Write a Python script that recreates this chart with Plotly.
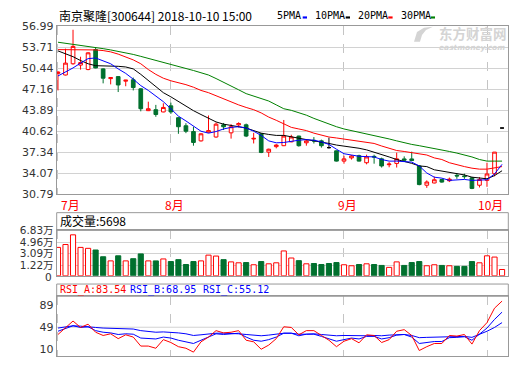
import plotly.graph_objects as go

# ---------------- data ----------------
MONTH_LABELS = ["7月", "8月", "9月", "10月"]
MONTH_START = [0, 15, 38, 57]

OPEN = [49.61, 49.36, 51.11, 50.90, 50.21, 53.31, 50.31, 48.80, 49.11, 48.40,
        48.61, 47.21, 43.81, 43.96, 43.61, 44.56, 42.71, 41.46, 40.56, 39.11,
        40.46, 39.71, 41.60, 40.36, 41.60, 41.61, 39.40, 40.21, 37.36, 38.21,
        38.36, 38.96, 39.86, 38.81, 39.20, 39.11, 38.06, 37.56, 35.96, 36.46,
        36.81, 35.71, 36.70, 36.31, 35.40, 35.60, 36.30, 36.30, 35.21, 32.21,
        32.56, 33.10, 32.91, 33.75, 33.65, 33.36, 32.21, 32.96, 34.00, 41.11]
HIGH = [49.96, 53.46, 56.40, 52.20, 52.90, 53.71, 50.40, 49.00, 49.20, 48.60,
        48.96, 47.30, 45.21, 44.71, 44.96, 45.06, 42.80, 41.86, 41.31, 40.30,
        43.06, 41.96, 41.90, 41.71, 42.00, 41.80, 40.36, 40.30, 37.90, 38.60,
        42.36, 40.06, 39.90, 39.40, 39.70, 39.30, 39.61, 37.60, 36.80, 36.90,
        36.96, 36.96, 36.96, 36.50, 35.80, 37.28, 36.70, 37.43, 35.30, 32.96,
        33.56, 33.20, 33.40, 34.10, 34.00, 33.50, 33.46, 35.71, 37.36, 41.11]
LOW = [46.96, 49.30, 50.96, 50.20, 50.10, 50.40, 48.06, 47.90, 46.71, 47.61,
       46.96, 43.71, 43.75, 42.86, 43.56, 43.31, 40.21, 40.31, 38.36, 39.00,
       40.40, 39.60, 40.80, 39.46, 41.20, 39.70, 38.71, 37.20, 36.61, 37.95,
       38.30, 38.90, 38.21, 38.36, 38.70, 38.06, 37.91, 35.90, 35.56, 36.20,
       35.90, 35.46, 35.56, 34.96, 35.00, 34.96, 35.96, 35.96, 32.20, 31.80,
       32.50, 32.60, 32.70, 33.20, 33.20, 31.60, 31.86, 31.96, 33.60, 41.11]
CLOSE = [49.81, 51.21, 53.81, 51.30, 52.81, 50.46, 48.86, 48.95, 47.81, 48.55,
         47.41, 44.11, 44.11, 43.21, 44.31, 43.61, 41.31, 40.61, 38.86, 40.21,
         40.71, 41.71, 41.30, 41.31, 41.80, 39.86, 39.50, 37.31, 37.81, 38.46,
         39.86, 39.71, 38.36, 39.11, 39.10, 38.36, 38.06, 35.96, 36.31, 36.76,
         35.96, 36.61, 36.60, 35.21, 35.50, 36.31, 36.10, 36.05, 32.31, 32.71,
         33.06, 32.70, 33.16, 33.65, 33.55, 31.71, 33.11, 33.96, 37.36, 41.11]
VOLUME = [41100, 45700, 61200, 41100, 39600, 36900, 26100, 19500, 27600, 19500,
          23000, 30700, 19500, 19500, 22600, 18400, 21500, 13700, 18400, 19500,
          28700, 27200, 21500, 17900, 16400, 16800, 13300, 18400, 14800, 16400,
          35400, 24100, 19900, 14800, 15300, 13700, 15300, 16800, 13300, 11700,
          13700, 14800, 13700, 12200, 9100, 17900, 12200, 16800, 18400, 11700,
          13300, 12200, 11700, 10700, 10700, 18400, 16400, 27600, 25600, 5698]

MA5 = [49.21, 49.81, 50.46, 51.21, 51.91, 52.01, 51.61, 51.11, 50.31, 49.61,
       48.71, 47.71, 46.96, 46.11, 45.21, 44.11, 42.96, 42.21, 41.46, 40.61,
       40.31, 40.56, 40.96, 41.21, 41.31, 41.11, 40.61, 39.96, 39.11, 38.81,
       38.86, 39.06, 39.21, 39.31, 39.21, 38.96, 38.56, 37.81, 37.11, 36.91,
       36.71, 36.66, 36.61, 36.21, 35.96, 35.96, 35.91, 35.81, 35.21, 34.11,
       33.46, 33.31, 32.96, 33.06, 33.11, 32.96, 32.96, 33.06, 33.96, 35.46]
MA10 = [53.11, 52.71, 52.21, 51.61, 51.11, 50.81, 50.81, 50.81, 50.71, 50.61,
        50.31, 49.46, 48.46, 47.46, 46.61, 45.96, 45.21, 44.46, 43.81, 43.21,
        42.61, 42.06, 41.71, 41.46, 41.31, 41.11, 40.71, 40.31, 40.11, 39.96,
        39.96, 39.71, 39.46, 39.31, 39.11, 38.96, 38.71, 38.46, 38.31, 38.16,
        37.96, 37.71, 37.36, 37.06, 36.61, 36.21, 35.96, 35.61, 35.21, 35.11,
        34.61, 34.41, 34.21, 33.96, 33.81, 33.46, 33.31, 33.21, 33.71, 34.46]
MA20 = [53.31, 53.31, 53.31, 53.31, 53.31, 53.26, 53.16, 52.96, 52.61, 52.21,
        51.71, 51.11, 50.21, 49.46, 48.86, 48.46, 48.21, 47.86, 47.46, 46.96,
        46.61, 46.11, 45.61, 45.11, 44.71, 44.31, 43.96, 43.46, 42.81, 42.31,
        41.71, 41.21, 40.96, 40.71, 40.31, 39.96, 39.71, 39.56, 39.41, 39.21,
        39.06, 38.91, 38.71, 38.31, 37.96, 37.61, 37.46, 37.31, 37.06, 36.91,
        36.46, 36.21, 35.71, 35.36, 35.11, 34.86, 34.71, 34.71, 34.86, 35.11]
MA30 = [54.46, 54.31, 54.16, 54.01, 53.86, 53.66, 53.46, 53.26, 53.06, 52.81,
        52.56, 52.26, 51.96, 51.66, 51.36, 50.96, 50.66, 50.36, 50.06, 49.71,
        49.36, 48.81, 48.26, 47.66, 47.06, 46.46, 46.11, 45.66, 45.31, 44.71,
        44.11, 43.86, 43.51, 43.11, 42.61, 42.16, 41.71, 41.31, 40.96, 40.71,
        40.51, 40.21, 39.96, 39.71, 39.41, 39.11, 38.81, 38.56, 38.36, 38.16,
        37.96, 37.71, 37.46, 37.21, 36.96, 36.61, 36.21, 35.96, 35.96, 35.96]

RSI_A = [39.4, 48.7, 57.2, 48.7, 53.0, 42.4, 38.1, 40.3, 33.9, 39.0,
         36.0, 24.1, 24.1, 21.2, 32.6, 28.8, 23.3, 21.2, 16.1, 29.7,
         36.0, 44.5, 41.5, 42.4, 44.5, 31.8, 29.7, 19.9, 25.4, 33.9,
         49.6, 48.7, 39.0, 44.5, 44.5, 38.1, 31.8, 23.3, 30.5, 33.9,
         28.4, 39.0, 38.1, 28.8, 32.6, 43.7, 45.8, 38.1, 18.2, 23.3,
         27.5, 27.5, 38.1, 37.3, 39.4, 26.7, 44.5, 55.1, 74.2, 83.54]
RSI_B = [43.7, 47.5, 50.9, 48.7, 49.6, 44.5, 42.4, 41.5, 39.4, 40.3,
         39.8, 34.7, 33.9, 33.5, 36.0, 34.7, 31.8, 29.7, 27.5, 31.8,
         36.0, 40.3, 39.4, 40.3, 41.1, 36.0, 31.8, 30.5, 32.6, 36.0,
         41.1, 41.1, 37.7, 39.8, 39.8, 36.9, 33.9, 30.5, 32.6, 34.7,
         33.5, 36.9, 36.9, 33.5, 35.2, 38.6, 39.4, 36.0, 27.5, 29.2,
         30.1, 30.1, 35.2, 35.6, 36.4, 31.8, 40.3, 47.9, 59.3, 68.95]
RSI_C = [47.9, 49.6, 50.9, 50.4, 50.0, 48.7, 47.9, 47.5, 47.1, 47.1,
         46.6, 44.5, 43.7, 42.4, 42.8, 42.4, 41.5, 40.3, 38.1, 39.0,
         40.3, 41.1, 41.1, 41.1, 40.3, 39.4, 38.1, 37.7, 38.6, 39.8,
         41.1, 41.1, 39.8, 39.8, 40.3, 39.4, 38.1, 37.7, 38.1, 37.7,
         37.3, 37.7, 38.1, 37.7, 38.6, 39.0, 39.4, 38.1, 35.2, 35.6,
         36.0, 36.0, 36.4, 36.9, 36.9, 35.6, 39.4, 43.7, 48.7, 55.12]

PRICE_TICKS = [30.79, 34.07, 37.34, 40.62, 43.89, 47.16, 50.44, 53.71, 56.99]
VOL_TICKS = [1.22, 3.09, 4.96, 6.83]        # 万
RSI_LEVELS = ["10", "49", "89"]

TITLE = "南京聚隆[300644] 2018-10-10 15:00"
MA_NAMES = ["5PMA", "10PMA", "20PMA", "30PMA"]

# ---------------- styles ----------------
W, H = 520, 365
RED = "#ff0000"
GREEN = "#00702e"
BLUE = "#0000ff"
MA_COLORS = [BLUE, "#000000", RED, "#008000"]
BORDER = "#999999"
GRID = "#d2d2d2"
VGRID = "#c4c4c4"
TICKFONT = dict(family="DejaVu Sans, Noto Sans CJK SC", size=11, color="#333333")
VOLTICKFONT = dict(family="DejaVu Sans, Noto Sans CJK SC", size=10.5, color="#333333")
CJK = "Noto Sans CJK SC"
MONO = "DejaVu Sans Mono"
WM = "#d4d4d4"

L_PX, R_PX = 56.7, 508.3
X_RANGE = [-0.17, 59.83]
VOL_FLOOR = -0.43
RSI_RANGE = [10.5, 89.9]
RSI_TICKPOS = [19.9, 49, 78.3]


def px(xp):
    return xp / W


def py(yp):
    return 1 - yp / H


n = len(CLOSE)
xs = list(range(n))
body = [i for i in xs if CLOSE[i] != OPEN[i]]
flat = [i for i in xs if CLOSE[i] == OPEN[i]]


def is_up(i):
    if CLOSE[i] > OPEN[i]:
        return True
    if CLOSE[i] < OPEN[i]:
        return False
    return i > 0 and CLOSE[i] >= CLOSE[i - 1]


fig = go.Figure()

fig.add_trace(go.Candlestick(
    x=body, open=[OPEN[i] for i in body], high=[HIGH[i] for i in body],
    low=[LOW[i] for i in body], close=[CLOSE[i] for i in body],
    increasing=dict(line=dict(color=RED, width=1), fillcolor="#ffffff"),
    decreasing=dict(line=dict(color=GREEN, width=1), fillcolor=GREEN),
    hoverinfo="skip", xaxis="x", yaxis="y"))
fig.add_trace(go.Candlestick(
    x=flat, open=[OPEN[i] for i in flat], high=[HIGH[i] for i in flat],
    low=[LOW[i] for i in flat], close=[CLOSE[i] for i in flat],
    increasing=dict(line=dict(color="#000000", width=1), fillcolor="#000000"),
    decreasing=dict(line=dict(color="#000000", width=1), fillcolor="#000000"),
    hoverinfo="skip", xaxis="x", yaxis="y"))

for ma, col in zip([MA30, MA20, MA10, MA5], MA_COLORS[::-1]):
    fig.add_trace(go.Scatter(x=xs, y=ma, mode="lines",
                             line=dict(color=col, width=1),
                             hoverinfo="skip", xaxis="x", yaxis="y"))

vol_wan = [v / 10000 for v in VOLUME]
ups = [is_up(i) for i in xs]
fig.add_trace(go.Bar(
    x=xs, y=[v - VOL_FLOOR for v in vol_wan], base=VOL_FLOOR, width=0.68,
    marker=dict(color=["#ffffff" if u else GREEN for u in ups],
                line=dict(color=[RED if u else GREEN for u in ups], width=1)),
    hoverinfo="skip", xaxis="x2", yaxis="y2"))

for series, col in [(RSI_C, BLUE), (RSI_B, BLUE), (RSI_A, RED)]:
    fig.add_trace(go.Scatter(x=xs, y=series, mode="lines",
                             line=dict(color=col, width=1),
                             hoverinfo="skip", xaxis="x3", yaxis="y3"))

xcommon = dict(domain=[px(L_PX), px(R_PX)], range=X_RANGE, tickvals=MONTH_START,
               showticklabels=False, ticks="", showgrid=True, gridcolor=VGRID,
               griddash="dash", gridwidth=1, zeroline=False, showline=True,
               mirror=True, linecolor=BORDER, linewidth=1, fixedrange=True)
ycommon = dict(ticks="", zeroline=False, showline=True,
               mirror=True, linecolor=BORDER, linewidth=1, gridcolor=GRID,
               gridwidth=1, fixedrange=True)

layout = dict(
    width=W, height=H, margin=dict(l=0, r=0, t=0, b=0),
    paper_bgcolor="#ffffff", plot_bgcolor="#ffffff", showlegend=False,
    boxgap=0.3,
    xaxis=dict(**xcommon, anchor="y", rangeslider=dict(visible=False)),
    xaxis2=dict(**xcommon, anchor="y2", matches="x"),
    xaxis3=dict(**xcommon, anchor="y3", matches="x"),
    yaxis=dict(**ycommon, tickfont=TICKFONT, domain=[py(195.3), py(20.7)],
               range=[PRICE_TICKS[0], PRICE_TICKS[-1]],
               tickvals=PRICE_TICKS, ticktext=[f"{t:.2f}" for t in PRICE_TICKS], showgrid=True),
    yaxis2=dict(**ycommon, tickfont=VOLTICKFONT, domain=[py(279.7), py(232.7)],
                range=[VOL_FLOOR, VOL_TICKS[-1]],
                tickvals=VOL_TICKS,
                ticktext=[f"{t:.2f}万" for t in VOL_TICKS], showgrid=True),
    yaxis3=dict(**ycommon, tickfont=TICKFONT, domain=[py(363.3), py(301)], range=RSI_RANGE,
                tickvals=RSI_TICKPOS, ticktext=RSI_LEVELS, showgrid=False),
)
fig.update_layout(**layout)

shapes = []
# panel header boxes
for top, bot in [(214.3, 232.7), (288.3, 301)]:
    shapes.append(dict(type="rect", xref="paper", yref="paper", x0=px(L_PX), x1=px(R_PX),
                       y0=py(bot), y1=py(top), line=dict(color=BORDER, width=1)))
# RSI mid line
shapes.append(dict(type="line", xref="x3 domain", yref="y3", x0=0, x1=1, y0=49, y1=49,
                   line=dict(color=GRID, width=1), layer="below"))
# legend swatches
sw_x = [302.7, 345.7, 388.3, 430.7]
for sx, col in zip(sw_x, MA_COLORS):
    shapes.append(dict(type="rect", xref="paper", yref="paper", x0=px(sx), x1=px(sx + 4.3),
                       y0=py(13.0), y1=py(10.8), line=dict(width=0), fillcolor=col))
# watermark logo (stylised swoosh)
logo_pts = [(414, 37), (417, 27), (424, 22.5), (433, 21.5), (426, 25), (422, 30), (420, 37)]
logo_path = "M " + " L ".join(f"{px(a):.5f},{py(b):.5f}" for a, b in logo_pts) + " Z"
shapes.append(dict(type="path", xref="paper", yref="paper", path=logo_path,
                   fillcolor=WM, line=dict(width=0)))

annotations = []
annotations.append(dict(text=TITLE, xref="paper", yref="paper", x=px(57.0), y=py(9.4),
                        xanchor="left", yanchor="middle", showarrow=False,
                        font=dict(family=CJK, size=12, color="#000000")))
lx = [275.0, 313.3, 355.7, 399.3]
for name, x0 in zip(MA_NAMES, lx):
    annotations.append(dict(text=name, xref="paper", yref="paper", x=px(x0), y=py(9.8),
                            xanchor="left", yanchor="middle", showarrow=False,
                            font=dict(family=MONO, size=10, color="#000000")))
# volume axis zero label
annotations.append(dict(text="0", xref="paper", yref="paper", x=px(53.2), y=py(281.3),
                        xanchor="right", yanchor="middle", showarrow=False, borderpad=0,
                        font=VOLTICKFONT))
# month labels
for k, (lab, st) in enumerate(zip(MONTH_LABELS, MONTH_START)):
    annotations.append(dict(text=lab, xref="x", yref="paper",
                            x=st + (0.2 if k == 0 else 0.45), y=py(206),
                            xanchor="left" if k == 0 else "center", yanchor="middle",
                            showarrow=False, font=dict(family=CJK, size=12, color=RED)))
# volume header
annotations.append(dict(text=f"成交量:{VOLUME[-1]}", xref="paper", yref="paper",
                        x=px(58), y=py(222.8), xanchor="left", yanchor="middle",
                        showarrow=False, font=dict(family=CJK, size=12, color="#000000")))
# RSI header
for label, val, col, x0 in [("RSI_A", RSI_A[-1], RED, 57.5), ("RSI_B", RSI_B[-1], BLUE, 128.3),
                            ("RSI_C", RSI_C[-1], BLUE, 200.7)]:
    annotations.append(dict(text=f"{label}:{val:.2f}", xref="paper", yref="paper",
                            x=px(x0), y=py(294.6), xanchor="left", yanchor="middle",
                            showarrow=False, font=dict(family=MONO, size=10, color=col)))
# watermark
annotations.append(dict(text="<b>东方财富网</b>", xref="paper", yref="paper", x=px(472.5), y=py(28.3),
                        xanchor="center", yanchor="middle", showarrow=False, borderpad=0,
                        font=dict(family=CJK, size=13.5, color=WM)))
annotations.append(dict(text="<b><i>eastmoney.com</i></b>", xref="paper", yref="paper",
                        x=px(472), y=py(43.2), xanchor="center", yanchor="middle",
                        showarrow=False, borderpad=0,
                        font=dict(family="DejaVu Sans", size=7.5, color=WM)))

fig.update_layout(shapes=shapes, annotations=annotations)
fig.write_html("out.html")
